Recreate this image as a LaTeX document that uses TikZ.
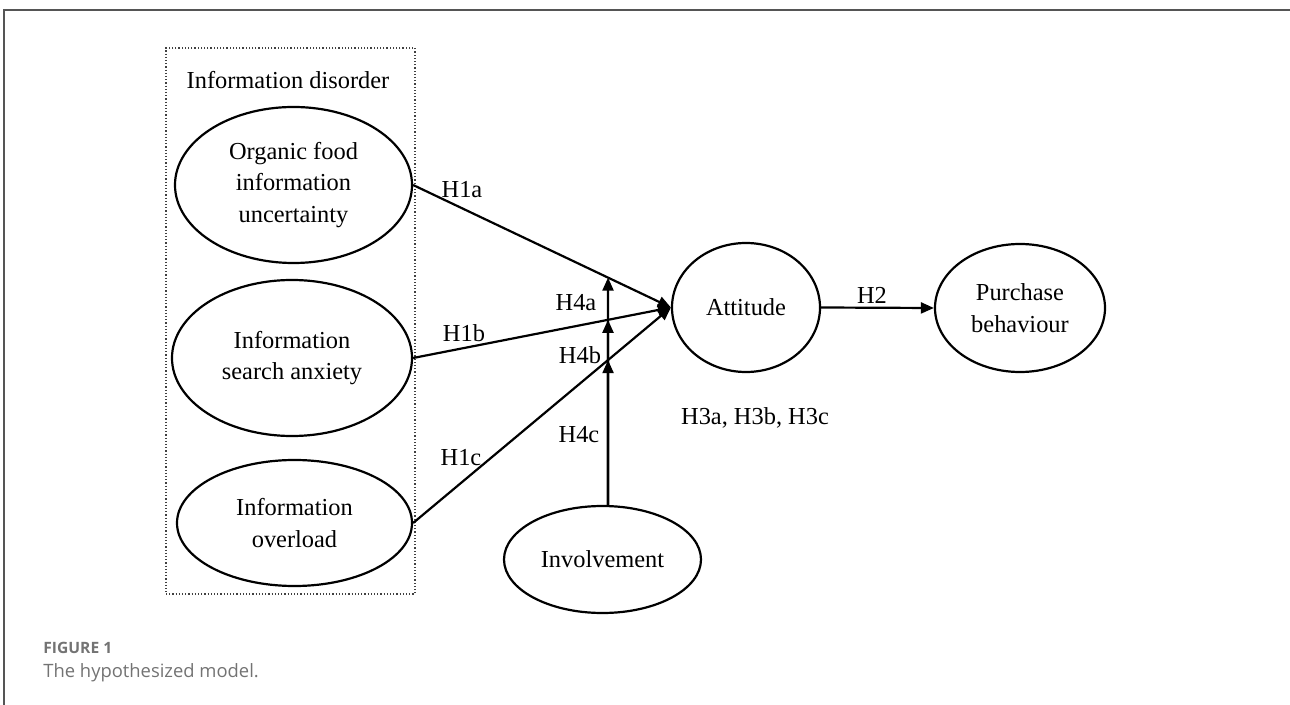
\documentclass[tikz,border=0pt]{standalone}
\usepackage{fontspec}
\setmainfont{Liberation Serif}
\newfontfamily\capfont{Open Sans}
\usetikzlibrary{shapes.geometric,arrows.meta}
\definecolor{framegray}{RGB}{85,85,85}
\definecolor{capgray}{RGB}{115,115,115}
\begin{document}
\begin{tikzpicture}[x=0.5pt,y=-0.5pt,
  construct/.style={ellipse,draw,line width=1.1pt,inner sep=0pt,align=center,
    font=\fontsize{12.2pt}{15.75pt}\selectfont},
  lbl/.style={inner sep=0pt,font=\fontsize{12.2pt}{14pt}\selectfont},
  hyp/.style={line width=1.1pt,-{Triangle[length=6.5pt,width=5.5pt]}},
  frameline/.style={draw=framegray,line width=1pt}]
\useasboundingbox (0,0) rectangle (1290,705);
% outer frame
\coordinate (ftr) at (1290,10);
\coordinate (ftl) at (4,10);
\coordinate (fbl) at (4,705);
\draw[frameline] (ftr) -- (ftl) -- (fbl);
% group box
\node (disorder) [draw=black!75,densely dotted,line width=0.6pt,minimum width=124.5pt,minimum height=273pt,inner sep=0pt] at (290.5,321) {};
\node[lbl] (dlabel) at (288,80) {Information disorder};
% constructs
\node[construct,minimum width=118.5pt,minimum height=78pt] (E1) at (293.5,185) {Organic food\\information\\uncertainty};
\node[construct,minimum width=120pt,minimum height=78pt] (E2) at (292,358) {Information\\search anxiety};
\node[construct,minimum width=117.5pt,minimum height=63pt] (E3) at (294.5,523) {Information\\overload};
\node[construct,minimum width=74pt,minimum height=64.5pt] (Att) at (746,307.5) {Attitude};
\node[construct,minimum width=85pt,minimum height=64pt] (Pur) at (1020,308) {Purchase\\behaviour};
\node[construct,minimum width=98.5pt,minimum height=53.5pt] (Inv) at (602.5,559.5) {Involvement};
% paths
\draw[hyp] (E1.east) -- (Att.west);
\draw[hyp] (E2.east) -- (Att.west);
\draw[hyp] (E3.east) -- (Att.west);
\draw[hyp] (Att.east) -- (Pur.west);
% moderation
\coordinate (vb) at (608,560);
\coordinate (vt) at (608,200);
\coordinate (ka) at (intersection of E1.east--Att.west and vb--vt);
\coordinate (kb) at (intersection of E2.east--Att.west and vb--vt);
\coordinate (kc) at (intersection of E3.east--Att.west and vb--vt);
\coordinate (v0) at (Inv.north -| vb);
\draw[hyp] (v0) -- (ka);
\draw[hyp] (v0) -- (kb);
\draw[hyp] (v0) -- (kc);
% labels
\node[lbl] (h1a) at (462,190) {H1a};
\node[lbl] (h1b) at (464,333) {H1b};
\node[lbl] (h1c) at (461,458) {H1c};
\node[lbl] (h4a) at (576,303) {H4a};
\node[lbl] (h4b) at (580,355) {H4b};
\node[lbl] (h4c) at (579,435) {H4c};
\node[lbl] (h2) at (872,295) {H2};
\node[lbl] (h3) at (755,418) {H3a, H3b, H3c};
% caption
\node[anchor=base west,inner sep=0pt,text=capgray,font=\capfont\bfseries\fontsize{7.8pt}{9pt}\selectfont] (fig) at (43,653) {FIGURE 1};
\node[anchor=base west,inner sep=0pt,text=capgray,font=\capfont\fontsize{9.2pt}{11pt}\selectfont] (cap) at (43,677) {The hypothesized model.};
\end{tikzpicture}
\end{document}
